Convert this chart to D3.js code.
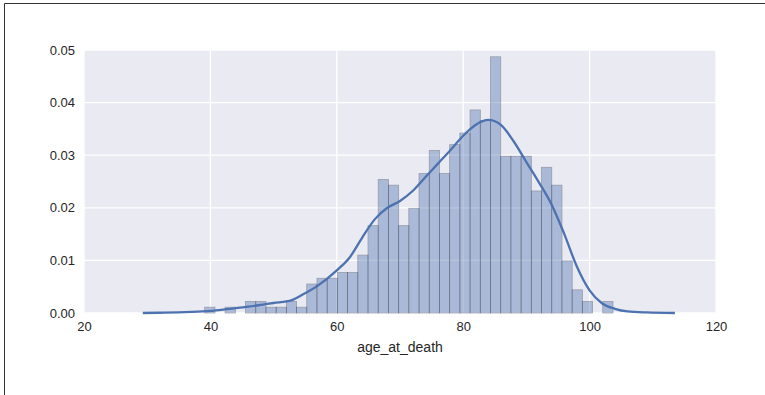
<!DOCTYPE html>
<html>
<head>
<meta charset="utf-8">
<script src="https://cdn.jsdelivr.net/npm/d3@7"></script>
<style>
  body { margin: 0; background: #fff; }
  text { font-family: "Liberation Sans", Arial, sans-serif; fill: #262626; }
</style>
</head>
<body>
<div id="chart"></div>
<script>
// histogram: 40 equal bins, densities
const binStart = 39.1
const binWidth = 1.615
const binDensity = [0.0011, 0, 0.0011, 0, 0.0022, 0.0022, 0.0011, 0.0011, 0.0022, 0.0011,
  0.0055, 0.0066, 0.0066, 0.0077, 0.0077, 0.0110, 0.0166, 0.0254, 0.0243, 0.0166,
  0.0199, 0.0265, 0.0309, 0.0265, 0.0320, 0.0342, 0.0386, 0.0366, 0.0487, 0.0298,
  0.0298, 0.0298, 0.0232, 0.0277, 0.0243, 0.0099, 0.0044, 0.0022, 0, 0.0022]

// kde curve points (age, density)
const kdeAge = [29.3, 32, 35, 37, 40, 43, 46, 48.3, 50, 52.5, 54.6, 57, 60, 62, 64, 66, 68, 70, 72, 74,
  76, 78, 80, 82, 84, 86, 88, 90, 92, 94, 96, 98, 100, 102, 104, 106, 109, 113.5]
const kdeDensity = [0, 0.00005, 0.00012, 0.0002, 0.0004, 0.0008, 0.0012, 0.0016, 0.0019, 0.0023, 0.0035, 0.0052, 0.0081, 0.0105, 0.0143, 0.0178, 0.0200, 0.0213, 0.0232, 0.0258,
  0.0284, 0.0310, 0.0337, 0.0358, 0.0367, 0.0357, 0.0326, 0.0287, 0.0248, 0.0206, 0.0150, 0.0088, 0.0043, 0.0018, 0.0008, 0.0003, 0.0001, 0]

const xTicks = [20, 40, 60, 80, 100, 120]
const yTicks = [0, 0.01, 0.02, 0.03, 0.04, 0.05]

const width = 765
const height = 395
const margin = {left: 84, right: 49, top: 50, bottom: 82}

const svg = d3.select("#chart").append("svg")
  .attr("width", width)
  .attr("height", height)

// figure frame (only top and left edges visible)
svg.append("line").attr("x1", 4.5).attr("x2", width).attr("y1", 3.5).attr("y2", 3.5)
  .attr("stroke", "#333").attr("stroke-width", 1)
svg.append("line").attr("x1", 4.5).attr("x2", 4.5).attr("y1", 3.5).attr("y2", height)
  .attr("stroke", "#333").attr("stroke-width", 1)

const x = d3.scaleLinear().domain([20, 120]).range([margin.left, width - margin.right])
const y = d3.scaleLinear().domain([0, 0.05]).range([height - margin.bottom, margin.top])

// background
svg.append("rect")
  .attr("x", x(20)).attr("y", y(0.05))
  .attr("width", x(120) - x(20)).attr("height", y(0) - y(0.05))
  .attr("fill", "#EAEAF2")

// grid
svg.append("g").selectAll("line").data(xTicks).join("line")
  .attr("x1", d => x(d)).attr("x2", d => x(d))
  .attr("y1", y(0)).attr("y2", y(0.05))
  .attr("stroke", "#fff").attr("stroke-width", 1.3)
svg.append("g").selectAll("line").data(yTicks).join("line")
  .attr("x1", x(20)).attr("x2", x(120))
  .attr("y1", d => y(d)).attr("y2", d => y(d))
  .attr("stroke", "#fff").attr("stroke-width", 1.3)

// bars
svg.append("g").selectAll("rect").data(binDensity).join("rect")
  .attr("x", (d, i) => x(binStart + i * binWidth))
  .attr("width", x(binStart + binWidth) - x(binStart))
  .attr("y", d => y(d))
  .attr("height", d => y(0) - y(d))
  .attr("fill", "#4C72B0")
  .attr("stroke", "#1a2640")
  .attr("stroke-width", 0.8)
  .style("opacity", d => d > 0 ? 0.4 : 0)

// kde line
const line = d3.line()
  .x((d, i) => x(kdeAge[i]))
  .y(d => y(d))
  .curve(d3.curveMonotoneX)
svg.append("path")
  .datum(kdeDensity)
  .attr("d", line)
  .attr("fill", "none")
  .attr("stroke", "#4C72B0")
  .attr("stroke-width", 2.3)

// axes (labels only, seaborn darkgrid has no tick marks)
const xAxis = svg.append("g")
  .attr("transform", `translate(0,${y(0)})`)
  .call(d3.axisBottom(x).tickValues(xTicks).tickSize(0).tickPadding(9).tickFormat(d3.format("d")))
xAxis.select(".domain").remove()
xAxis.selectAll("text").style("font-size", "13px").attr("fill", "#262626")

const yAxis = svg.append("g")
  .attr("transform", `translate(${x(20)},0)`)
  .call(d3.axisLeft(y).tickValues(yTicks).tickSize(0).tickPadding(9).tickFormat(d3.format(".2f")))
yAxis.select(".domain").remove()
yAxis.selectAll("text").style("font-size", "13px").attr("fill", "#262626")

svg.append("text")
  .attr("x", (x(20) + x(120)) / 2)
  .attr("y", 352)
  .attr("text-anchor", "middle")
  .style("font-size", "14px")
  .text("age_at_death")
</script>
</body>
</html>
